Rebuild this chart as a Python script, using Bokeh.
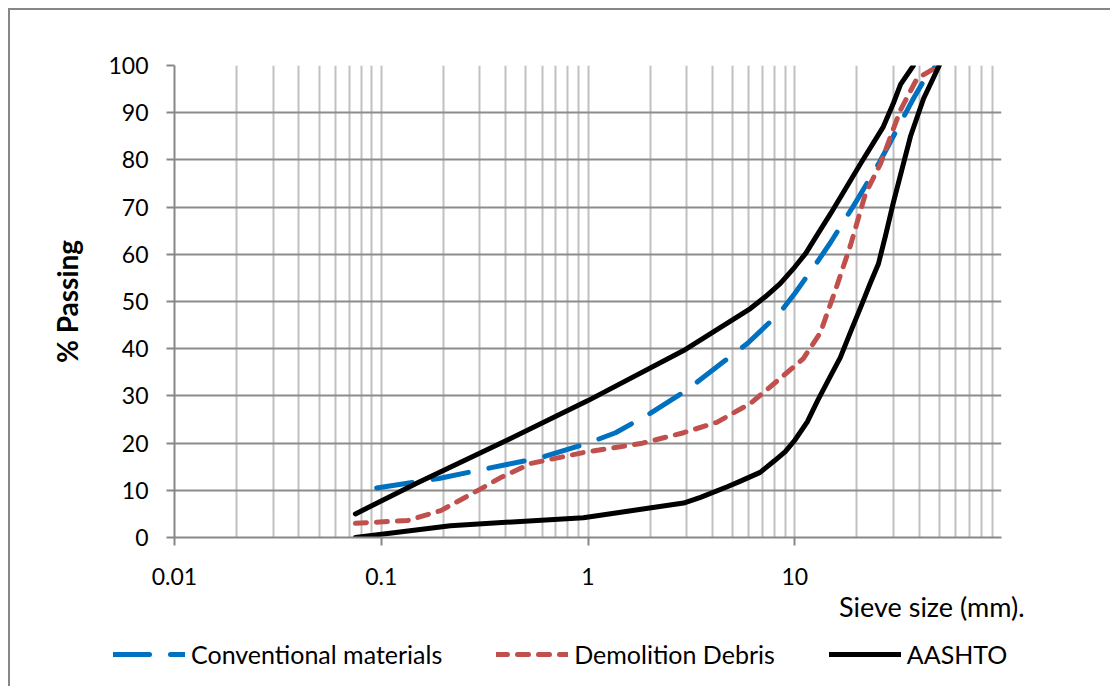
from bokeh.plotting import figure
from bokeh.models import (Range1d, FixedTicker, Legend, LegendItem, Title)
from bokeh.layouts import column
from bokeh.embed import file_html
from bokeh.resources import INLINE

# ---------------- data ----------------
conv_x = [0.095, 0.19, 0.3, 0.6, 1.0, 1.36, 2.0, 2.74, 3.3, 5.0, 5.9, 8.5, 10.0, 13.0, 14.9, 19.7, 25.7, 37.5, 45.0, 49.0]
conv_y = [10.5, 12.5, 14.3, 17.0, 20.0, 22.2, 26.3, 30.1, 32.6, 38.7, 41.1, 47.7, 51.7, 58.7, 62.5, 71.0, 79.5, 93.0, 99.0, 100.0]

demo_x = [0.075, 0.134, 0.194, 0.3, 0.378, 0.53, 0.95, 1.8, 2.9, 4.2, 6.1, 8.5, 11.0, 13.3, 15.7, 18.6, 22.0, 26.0, 32.4, 39.0, 47.0, 50.0]
demo_y = [3.0, 3.6, 5.7, 10.2, 12.7, 15.7, 18.0, 19.9, 22.2, 24.4, 28.4, 33.7, 37.9, 43.4, 52.3, 61.9, 72.9, 79.2, 90.5, 97.2, 99.3, 100.0]

aashto_up_x = [0.075, 0.15, 0.38, 1.0, 2.9, 6.1, 7.2, 8.5, 10.0, 11.3, 13.0, 14.9, 20.8, 26.8, 30.0, 32.5, 37.5]
aashto_up_y = [5.0, 11.6, 20.0, 29.0, 39.6, 48.5, 51.0, 53.8, 57.3, 60.2, 64.5, 68.6, 79.2, 87.0, 92.0, 96.0, 100.0]

aashto_lo_x = [0.075, 0.216, 0.95, 2.9, 3.5, 4.75, 5.5, 6.8, 8.0, 9.0, 10.0, 11.5, 12.9, 14.6, 16.6, 18.6, 20.8, 23.0, 25.4, 27.5, 30.0, 33.0, 36.3, 42.0, 50.0]
aashto_lo_y = [0.0, 2.5, 4.2, 7.3, 8.5, 10.8, 12.0, 13.8, 16.3, 18.2, 20.6, 24.5, 29.0, 33.5, 38.1, 43.5, 48.7, 53.5, 58.0, 64.0, 71.0, 78.0, 85.0, 93.0, 100.0]

x_ticks = [0.01, 0.1, 1, 10]
x_tick_labels = ["0.01", "0.1", "1", "10"]
y_ticks = [0, 10, 20, 30, 40, 50, 60, 70, 80, 90, 100]

series_names = ["Conventional materials", "Demolition Debris", "AASHTO"]
x_title = "Sieve size (mm)."
y_title = "% Passing"

FONT = "Lato"
BLUE, RED, BLACK = "#0070C0", "#C0504D", "black"
W = 1100
H1 = 622
H2 = 676 - H1

# ---------------- main chart ----------------
p = figure(width=W, height=H1, x_axis_type="log",
           x_range=Range1d(0.01, 100), y_range=Range1d(0, 100),
           output_backend="svg", toolbar_location=None,
           min_border_left=164, min_border_top=55, min_border_right=109,
           min_border_bottom=H1 - 55 - 472)
p.outline_line_color = None
p.background_fill_color = "white"
p.border_fill_color = "white"

minor = [m * 10.0 ** e for e in range(-2, 2) for m in range(2, 10)] + [100.0]
p.xaxis.ticker = FixedTicker(ticks=x_ticks, minor_ticks=minor)
p.xaxis.major_label_overrides = {t: l for t, l in zip(x_ticks, x_tick_labels)}
p.yaxis.ticker = FixedTicker(ticks=y_ticks)

for ax in (p.xaxis, p.yaxis):
    ax.axis_line_color = "#878787"
    ax.axis_line_width = 2
    ax.major_tick_line_color = "#878787"
    ax.major_tick_line_width = 2
    ax.major_tick_out = 8
    ax.major_tick_in = 0
    ax.minor_tick_line_color = None
    ax.major_label_text_font = FONT
    ax.major_label_text_font_size = "23px"
    ax.major_label_text_color = "black"

p.xaxis.major_label_standoff = 22
p.yaxis.major_label_standoff = 18

p.yaxis.axis_label = y_title
p.yaxis.axis_label_text_font = FONT
p.yaxis.axis_label_text_font_size = "28px"
p.yaxis.axis_label_text_font_style = "bold"
p.yaxis.axis_label_text_color = "black"
p.yaxis.axis_label_standoff = 21

p.xgrid.grid_line_color = "#c0c0c0"
p.xgrid.grid_line_width = 2
p.xgrid.minor_grid_line_color = "#c0c0c0"
p.xgrid.minor_grid_line_width = 2
p.ygrid.grid_line_color = "#8c8c8c"
p.ygrid.grid_line_width = 2

styles = [dict(line_color=BLUE, line_width=5, line_dash="36 21", line_cap="round", line_join="round"),
          dict(line_color=RED, line_width=5, line_dash="11 10", line_cap="round", line_join="round"),
          dict(line_color=BLACK, line_width=5, line_cap="round", line_join="round")]

p.line(conv_x, conv_y, **styles[0])
p.line(demo_x, demo_y, **styles[1])
p.line(aashto_up_x, aashto_up_y, **styles[2])
p.line(aashto_lo_x, aashto_lo_y, **styles[2])

xt = Title(text=x_title, align="right", offset=-23, standoff=0,
           text_font=FONT, text_font_size="27px", text_color="black",
           text_font_style="normal")
p.add_layout(xt, "below")

# ---------------- strip below: legend ----------------
q = figure(width=W, height=H2, x_range=Range1d(0, W), y_range=Range1d(0, H2),
           output_backend="svg", toolbar_location=None,
           x_axis_location=None, y_axis_location=None,
           min_border=0, min_border_left=0, min_border_right=0,
           min_border_top=0, min_border_bottom=0)
if "frame_align" in q.properties():
    q.frame_align = False
    p.frame_align = False
q.outline_line_color = None
q.xgrid.visible = False
q.ygrid.visible = False
q.background_fill_color = "white"
q.border_fill_color = "white"

# legend-only renderers placed outside the visible range
dummies = [q.line([-100, -99], [-100, -100], **s) for s in styles]
legend = Legend(items=[LegendItem(label=n, renderers=[r]) for n, r in zip(series_names, dummies)],
                orientation="horizontal", location=(103, 17),
                glyph_width=72, glyph_height=28, label_height=28, label_standoff=6, spacing=54,
                padding=0, margin=0, border_line_color=None,
                background_fill_alpha=0,
                label_text_font=FONT, label_text_font_size="25px",
                label_text_color="black")
q.add_layout(legend)

page = column(p, q, spacing=0,
              styles={"margin-left": "8px", "margin-top": "8px",
                      "border-left": "2px solid #878787", "border-top": "2px solid #878787"})

open("out.html", "w").write(file_html(page, INLINE))
